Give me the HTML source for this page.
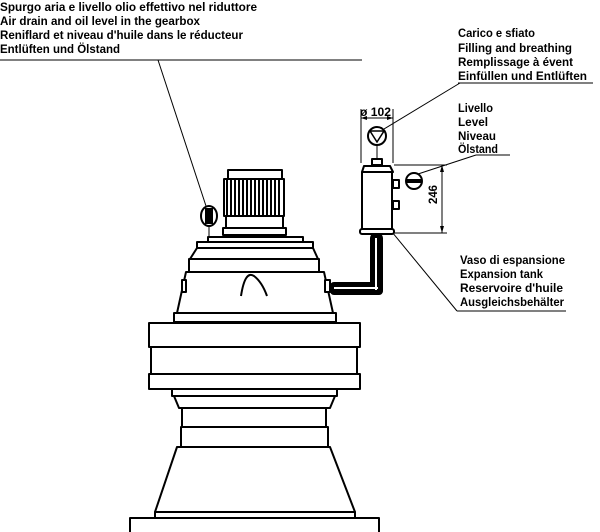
<!DOCTYPE html>
<html><head><meta charset="utf-8"><style>
html,body{margin:0;padding:0;background:#fff}
svg{display:block}
text{font-family:"Liberation Sans",sans-serif;font-size:12px;font-weight:bold;fill:#000}
</style></head><body>
<svg width="600" height="532" viewBox="0 0 600 532" xmlns="http://www.w3.org/2000/svg">
<g>
<text x="0" y="11" textLength="257" lengthAdjust="spacingAndGlyphs">Spurgo aria e livello olio effettivo nel riduttore</text>
<text x="0" y="25" textLength="200" lengthAdjust="spacingAndGlyphs">Air drain and oil level in the gearbox</text>
<text x="0" y="39" textLength="243" lengthAdjust="spacingAndGlyphs">Reniflard et niveau d'huile dans le réducteur</text>
<text x="0" y="53" textLength="120" lengthAdjust="spacingAndGlyphs">Entlüften und Ölstand</text>

<text x="458" y="37" textLength="77" lengthAdjust="spacingAndGlyphs">Carico e sfiato</text>
<text x="458" y="52" textLength="114" lengthAdjust="spacingAndGlyphs">Filling and breathing</text>
<text x="458" y="66" textLength="115" lengthAdjust="spacingAndGlyphs">Remplissage à évent</text>
<text x="458" y="80" textLength="129" lengthAdjust="spacingAndGlyphs">Einfüllen und Entlüften</text>

<text x="458" y="112" textLength="35" lengthAdjust="spacingAndGlyphs">Livello</text>
<text x="458" y="126" textLength="30" lengthAdjust="spacingAndGlyphs">Level</text>
<text x="458" y="140" textLength="38" lengthAdjust="spacingAndGlyphs">Niveau</text>
<text x="458" y="153" textLength="40" lengthAdjust="spacingAndGlyphs">Ölstand</text>

<text x="460" y="264" textLength="105" lengthAdjust="spacingAndGlyphs">Vaso di espansione</text>
<text x="460" y="278" textLength="83" lengthAdjust="spacingAndGlyphs">Expansion tank</text>
<text x="460" y="292" textLength="103" lengthAdjust="spacingAndGlyphs">Reservoire d'huile</text>
<text x="460" y="306" textLength="104" lengthAdjust="spacingAndGlyphs">Ausgleichsbehälter</text>

<text x="360" y="116" textLength="31" lengthAdjust="spacingAndGlyphs">ø 102</text>
<text transform="translate(437,204) rotate(-90)" textLength="19" lengthAdjust="spacingAndGlyphs">246</text>
</g>

<g stroke="#000" stroke-width="1" fill="none">
<line x1="0" y1="60" x2="362" y2="60"/>
<line x1="158" y1="60" x2="206" y2="206"/>
<line x1="458" y1="83" x2="593" y2="83"/>
<line x1="460" y1="83" x2="384" y2="129"/>
<line x1="476" y1="155" x2="510" y2="155"/>
<line x1="476" y1="155" x2="418" y2="174"/>
<line x1="457" y1="311" x2="566" y2="311"/>
<line x1="457" y1="311" x2="378" y2="215"/>
<!-- dims -->
<line x1="361" y1="109" x2="361" y2="163"/>
<line x1="393" y1="109" x2="393" y2="163"/>
<line x1="361" y1="118" x2="393" y2="118"/>
<line x1="394" y1="165" x2="447" y2="165"/>
<line x1="394" y1="233" x2="447" y2="233"/>
<line x1="442" y1="165" x2="442" y2="233"/>
</g>
<g fill="#000">
<polygon points="361,118 367,116 367,120"/>
<polygon points="393,118 387,116 387,120"/>
<polygon points="442,165 440,172 444,172"/>
<polygon points="442,233 440,226 444,226"/>
</g>

<g stroke="#000" stroke-width="2" fill="#fff" stroke-linejoin="round">
<!-- motor -->
<rect x="228" y="170" width="54" height="9"/>
<rect x="224" y="179" width="60" height="37"/>
<rect x="226" y="216" width="57" height="12"/>
<rect x="223" y="228" width="63" height="7"/>
<rect x="208" y="237" width="95" height="5"/>
<rect x="197" y="242" width="116" height="6"/>
<polygon points="197,248 313,248 318,259 190,259"/>
<rect x="189" y="259" width="130" height="13"/>
<polygon points="186,272 324,272 333,313 177,313"/>
<rect x="174" y="313" width="162" height="9"/>
<rect x="174" y="310" width="162" height="12" fill="none" stroke="none"/>
<rect x="149" y="323" width="211" height="24"/>
<rect x="151" y="347" width="206" height="27"/>
<rect x="149" y="374" width="211" height="15"/>
<rect x="172" y="389" width="165" height="7"/>
<polygon points="174,396 335,396 330,408 179,408"/>
<rect x="182" y="408" width="144" height="19"/>
<rect x="181" y="427" width="147" height="20"/>
<polygon points="177,447 330,447 355,512 155,512"/>
<rect x="155" y="512" width="200" height="6"/>
<rect x="130" y="518" width="249" height="16"/>
<!-- side bosses -->
<rect x="182" y="280" width="4" height="12"/>
<rect x="325" y="280" width="5" height="12"/>
<!-- tank -->
<rect x="372" y="159" width="10" height="6"/>
<path d="M362,172 L364,166 L390,166 L393,172 Z"/>
<rect x="362" y="172" width="30" height="57"/>
<rect x="360" y="229" width="34" height="5" rx="2"/>
<rect x="393" y="180" width="6" height="8"/>
<rect x="393" y="201" width="6" height="8"/>
<!-- pipes -->
<rect x="371" y="234" width="11" height="60" rx="4" fill="#000"/>
<rect x="331" y="283" width="51" height="11" rx="3" fill="#000"/>
<!-- symbols -->
<ellipse cx="209" cy="216" rx="8" ry="10"/>
<circle cx="377" cy="136" r="9"/>
<circle cx="414" cy="181" r="8"/>
</g>
<g stroke="#fff" stroke-width="2">
<line x1="376" y1="238" x2="376" y2="290"/>
<line x1="334" y1="288" x2="378" y2="288"/>
</g>
<g fill="#000" stroke="#000">
<!-- fins -->
<path d="M227,179v37M231,179v37M235,179v37M239,179v37M243,179v37M247,179v37M251,179v37M255,179v37M259,179v37M263,179v37M267,179v37M271,179v37M275,179v37M279,179v37" stroke-width="2"/>
<rect x="205" y="208" width="8" height="16" stroke="none"/>
<line x1="209" y1="226" x2="209" y2="236" stroke-width="1"/>
<rect x="407" y="179" width="14" height="4" stroke="none"/>
<line x1="377" y1="145" x2="377" y2="159" stroke-width="1"/>
<polygon points="370,131 384,131 377,142" fill="none" stroke-width="1.5"/>
<path d="M241,296 Q245,270 254,276 Q262,282 267,296" fill="none" stroke-width="2"/>
</g>
</svg>
</body></html>
